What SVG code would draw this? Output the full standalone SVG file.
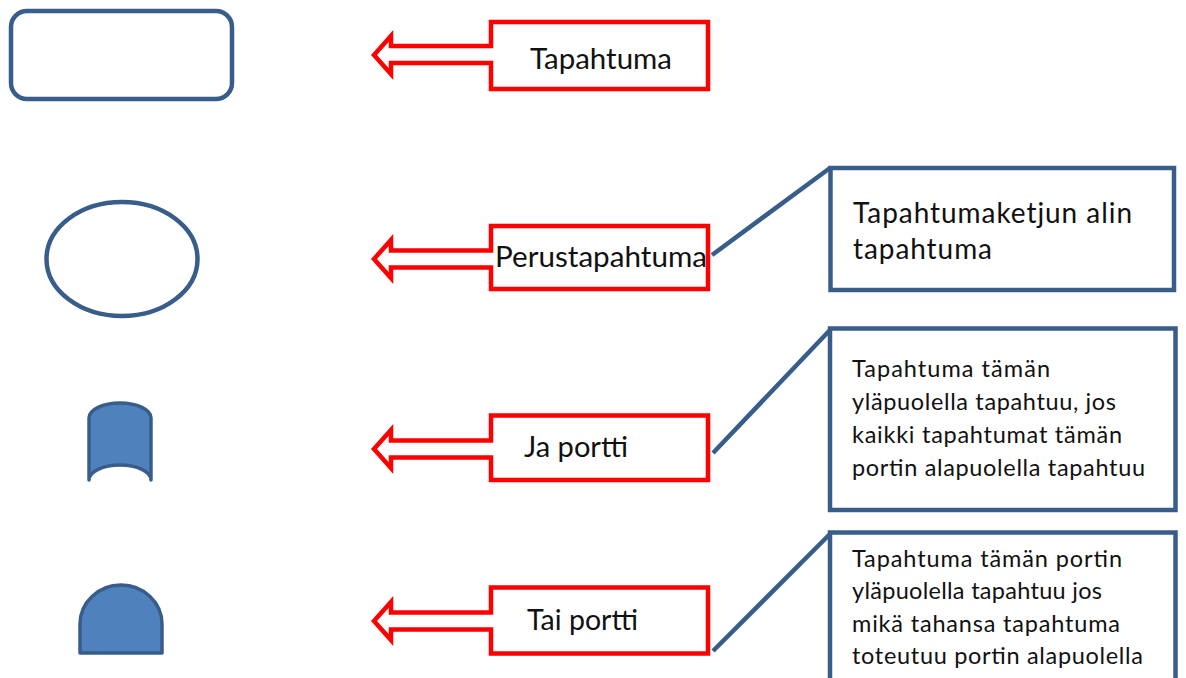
<svg xmlns="http://www.w3.org/2000/svg" width="1186" height="678" viewBox="0 0 1186 678">
  <style>
    .sym { fill: #ffffff; stroke: #385D8A; stroke-width: 4.5; }
    .gate { fill: #4F81BD; stroke: #385D8A; stroke-width: 3.5; stroke-linejoin: round; }
    .tag { fill: #ffffff; stroke: #FF0000; stroke-width: 4.5; stroke-linejoin: miter; }
    .note { fill: #ffffff; stroke: #385D8A; stroke-width: 4.5; }
    .lead { fill: none; stroke: #385D8A; stroke-width: 4.5; }
    .lbl { font-family: Lato, "Liberation Sans", sans-serif; font-size: 28px; fill: #111111; }
    .big { font-family: Lato, "Liberation Sans", sans-serif; font-size: 28px; fill: #111111; }
    .small { font-family: Lato, "Liberation Sans", sans-serif; font-size: 23.5px; fill: #111111; }
  </style>

  <!-- symbols on the left -->
  <g id="symbol-event">
    <rect class="sym" x="11" y="11" width="221" height="88" rx="16" ry="16"/>
  </g>
  <g id="symbol-basic-event">
    <ellipse class="sym" cx="122" cy="259" rx="75.5" ry="57"/>
  </g>
  <g id="symbol-and-gate">
    <path class="gate" d="M89,480 L89,418 A31,15 0 0 1 151,418 L151,480 A31,15 0 0 0 89,480 Z"/>
  </g>
  <g id="symbol-or-gate">
    <path class="gate" d="M80,653 L80,624 A41,39 0 0 1 162,624 L162,653 Z"/>
  </g>

  <!-- connectors from labels to explanation boxes -->
  <g id="connectors">
    <line class="lead" x1="712" y1="255" x2="830" y2="168"/>
    <line class="lead" x1="713" y1="453" x2="830" y2="330"/>
    <line class="lead" x1="713" y1="651" x2="830" y2="534"/>
  </g>

  <!-- arrow callouts pointing at the symbols -->
  <g id="label-event">
    <path class="tag" d="M491,22 L708,22 L708,89 L491,89 L491,63 L391,63 L391,74 L374,55 L391,36 L391,46 L491,46 Z"/>
    <text class="lbl" x="530" y="69" textLength="142" lengthAdjust="spacingAndGlyphs">Tapahtuma</text>
  </g>
  <g id="label-basic-event">
    <path class="tag" d="M491,226 L708,226 L708,289 L491,289 L491,267.5 L391,267.5 L391,278 L374,259 L391,240 L391,250.5 L491,250.5 Z"/>
    <text class="lbl" x="495" y="267" textLength="212" lengthAdjust="spacingAndGlyphs">Perustapahtuma</text>
  </g>
  <g id="label-and-gate">
    <path class="tag" d="M491,415.5 L708,415.5 L708,480 L491,480 L491,457.5 L391,457.5 L391,468 L374,449 L391,430 L391,440.5 L491,440.5 Z"/>
    <text class="lbl" x="524" y="457" textLength="104" lengthAdjust="spacingAndGlyphs">Ja portti</text>
  </g>
  <g id="label-or-gate">
    <path class="tag" d="M491,587.5 L708,587.5 L708,653.5 L491,653.5 L491,629.5 L391,629.5 L391,640 L374,621 L391,602 L391,612.5 L491,612.5 Z"/>
    <text class="lbl" x="527" y="630" textLength="111" lengthAdjust="spacingAndGlyphs">Tai portti</text>
  </g>

  <!-- explanation boxes -->
  <g id="note-basic-event">
    <rect class="note" x="830.5" y="168" width="343.5" height="122"/>
    <text class="big" x="853" y="223" textLength="279" lengthAdjust="spacing">Tapahtumaketjun alin</text>
    <text class="big" x="853" y="259" textLength="139" lengthAdjust="spacing">tapahtuma</text>
  </g>
  <g id="note-and-gate">
    <rect class="note" x="830" y="328.5" width="345.5" height="181.5"/>
    <text class="small" x="852" y="377" textLength="198" lengthAdjust="spacing">Tapahtuma tämän</text>
    <text class="small" x="852" y="410" textLength="264" lengthAdjust="spacing">yläpuolella tapahtuu, jos</text>
    <text class="small" x="852" y="443" textLength="270" lengthAdjust="spacing">kaikki tapahtumat tämän</text>
    <text class="small" x="852" y="476" textLength="293" lengthAdjust="spacing">portin alapuolella tapahtuu</text>
  </g>
  <g id="note-or-gate">
    <rect class="note" x="830" y="532.5" width="345.5" height="170"/>
    <text class="small" x="852" y="567" textLength="270" lengthAdjust="spacing">Tapahtuma tämän portin</text>
    <text class="small" x="852" y="599" textLength="250" lengthAdjust="spacing">yläpuolella tapahtuu jos</text>
    <text class="small" x="852" y="632" textLength="268" lengthAdjust="spacing">mikä tahansa tapahtuma</text>
    <text class="small" x="852" y="664" textLength="291" lengthAdjust="spacing">toteutuu portin alapuolella</text>
  </g>
</svg>
